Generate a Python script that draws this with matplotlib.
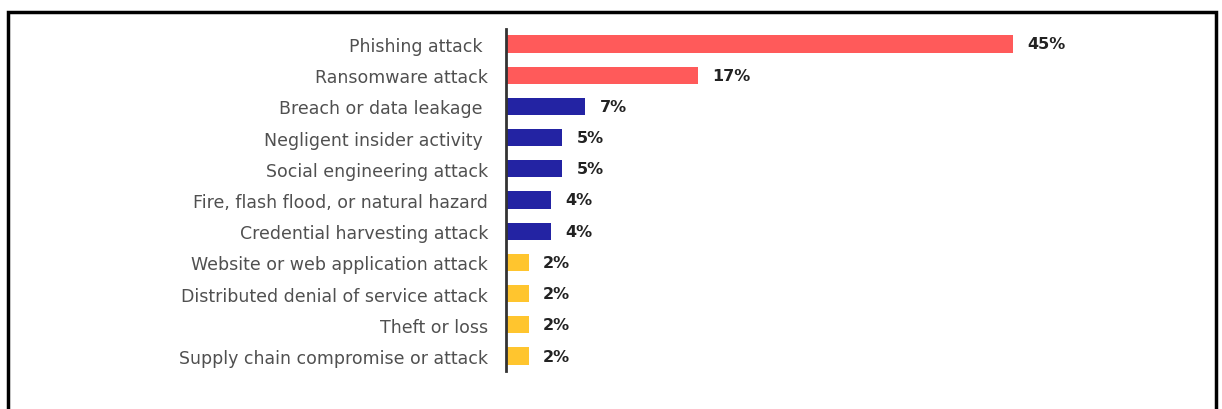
import matplotlib
matplotlib.use("Agg")
import matplotlib.pyplot as plt
from matplotlib.patches import Rectangle

# data
labels = [
    "Phishing attack ",
    "Ransomware attack",
    "Breach or data leakage ",
    "Negligent insider activity ",
    "Social engineering attack",
    "Fire, flash flood, or natural hazard",
    "Credential harvesting attack",
    "Website or web application attack",
    "Distributed denial of service attack",
    "Theft or loss",
    "Supply chain compromise or attack",
]
values = [45, 17, 7, 5, 5, 4, 4, 2, 2, 2, 2]
groups = ["top", "top", "mid", "mid", "mid", "mid", "mid", "low", "low", "low", "low"]

group_colors = {"top": "#FF5A5A", "mid": "#2323A3", "low": "#FFC52E"}
colors = [group_colors[g] for g in groups]

W, H = 1222, 410
fig = plt.figure(figsize=(W / 100, H / 100), dpi=100)

# axes placed so that x=0 sits at ~506px and 45% reaches ~1013px
px_per_pct = (1013 - 506) / 45
ax_left, ax_right = 506 / W, 1150 / W
ax_top, ax_bot = 1 - 30 / H, 1 - 372 / H
ax = fig.add_axes([ax_left, ax_bot, ax_right - ax_left, ax_top - ax_bot])

ypos = list(range(len(labels)))
ax.barh(ypos, values, height=0.55, color=colors)
ax.set_xlim(0, (1150 - 506) / px_per_pct)
ax.set_ylim(len(labels) - 0.52, -0.48)

ax.set_yticks(ypos)
ax.set_yticklabels(labels, fontsize=12.5, color="#505050")
ax.tick_params(axis="y", length=0, pad=13)
ax.set_xticks([])

for s in ["top", "right", "bottom"]:
    ax.spines[s].set_visible(False)
ax.spines["left"].set_color("#333333")
ax.spines["left"].set_linewidth(2)

for y, v in zip(ypos, values):
    ax.text(v + 1.3, y, f"{v}%", va="center", ha="left",
            fontsize=11.5, fontweight="bold", color="#222222")

# outer black frame, cut at the bottom edge
fig.patches.append(Rectangle((8 / W, -0.05), (1216 - 8) / W, 1.05 - 13 / H,
                             transform=fig.transFigure, fill=False,
                             edgecolor="black", linewidth=2.5))

fig.savefig("out.png", dpi=100, facecolor="white")
